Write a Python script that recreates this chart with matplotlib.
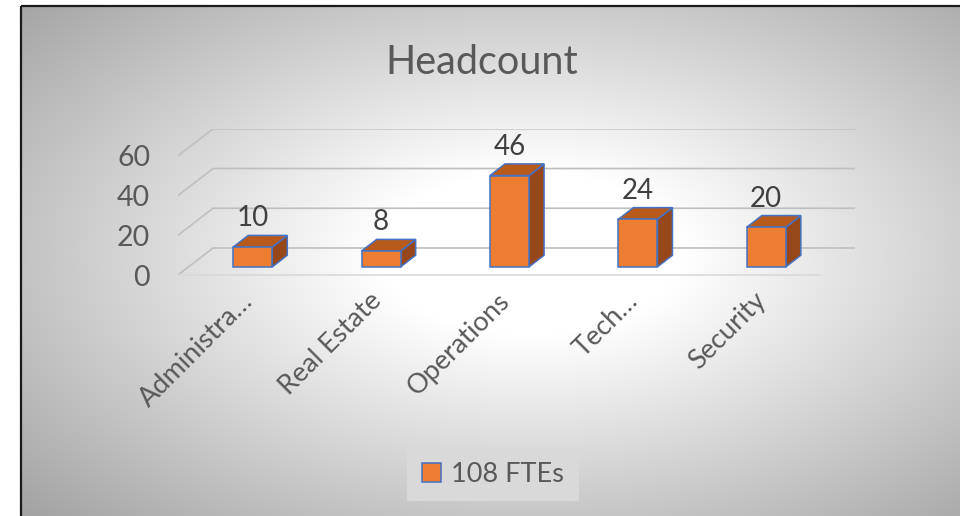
import numpy as np
import matplotlib.pyplot as plt
from matplotlib.patches import Polygon, Rectangle, Patch

categories = ['Administra…', 'Real Estate', 'Operations', 'Tech…', 'Security']
values = [10, 8, 46, 24, 20]
yticks = [0, 20, 40, 60]
title = 'Headcount'
series_name = 'FTEs'

front_c = '#ED7D31'
top_c = '#B95A1D'
side_c = '#97481B'
edge_c = '#4472C4'
text_c = '#595959'
grid_c = '#BFBFBF'

plt.rcParams['font.family'] = ['Lato', 'DejaVu Sans']

W, H = 960, 516
fig = plt.figure(figsize=(W / 100, H / 100), dpi=100)

# background: radial grey gradient inside a black frame
bg = fig.add_axes([0, 0, 1, 1], zorder=-10)
bg.set_xlim(0, W)
bg.set_ylim(H, 0)
bg.axis('off')
xx, yy = np.meshgrid(np.arange(W), np.arange(H))
r = np.sqrt(((xx - 520) / 620) ** 2 + ((yy - 250) / 330) ** 2)
shade = 1 - 0.40 * np.clip(r - 0.25, 0, None)
bg.imshow(np.dstack([shade] * 3), extent=(21, W, H, 6), aspect='auto', zorder=0)
bg.add_patch(Rectangle((21, 6), W, H, fill=False, edgecolor='#1a1a1a', lw=1.6, zorder=1))

# plot area: x in category units, y in value units (oblique 3d look)
px_left, px_right, px_bot, px_top = 178, 855, 275, 129
ax = fig.add_axes([px_left / W, 1 - px_bot / H, (px_right - px_left) / W, (px_bot - px_top) / H])
ax.set_facecolor('none')
ymax = 73.5
ax.set_xlim(-0.5, 4.5 + 0.2726)
ax.set_ylim(0, ymax)
for s in ax.spines.values():
    s.set_visible(False)
ax.set_xticks([])

Dx, Dy = 0.2726, 13.6   # full floor depth in data units
n = len(categories)

# gridlines: diagonal on the side wall then along the back wall
for v in yticks:
    ax.plot([-0.5, -0.5 + Dx, n - 0.5 + Dx], [v, v + Dy, v + Dy], color=grid_c, lw=1.2, zorder=1)
ax.plot([-0.5, n - 0.5], [0, 0], color='#D9D9D9', lw=1.2, zorder=1, clip_on=False)

ax.set_yticks(yticks)
ax.set_yticklabels([str(v) for v in yticks], fontsize=20.5, color=text_c)
ax.tick_params(axis='y', length=0, pad=20)

f0, d, bw = 0.3, 0.43, 0.304
for i, v in enumerate(values):
    xc = i + f0 * Dx
    xl, xr = xc - bw / 2, xc + bw / 2
    yb = f0 * Dy
    yt = yb + v
    ox, oy = d * Dx, d * Dy
    ax.add_patch(Polygon([(xr, yb), (xr + ox, yb + oy), (xr + ox, yt + oy), (xr, yt)],
                         facecolor=side_c, edgecolor=edge_c, lw=1.1, zorder=3))
    ax.add_patch(Polygon([(xl, yt), (xr, yt), (xr + ox, yt + oy), (xl + ox, yt + oy)],
                         facecolor=top_c, edgecolor=edge_c, lw=1.1, zorder=3))
    ax.add_patch(Rectangle((xl, yb), bw, v, facecolor=front_c, edgecolor=edge_c, lw=1.1, zorder=4))
    ax.text(xc, yt + oy + 4.5, str(v), ha='center', va='baseline', fontsize=20, color='#404040', zorder=5)
    ax.text(xc - 0.03, -11, categories[i], rotation=45, rotation_mode='anchor',
            ha='right', va='center', fontsize=19.5, color=text_c, clip_on=False)

fig.text(482 / W, 1 - 62 / H, title, ha='center', va='center', fontsize=28.5, color=text_c)

handle = Patch(facecolor=front_c, edgecolor=edge_c, lw=1.1)
leg = fig.legend([handle], [f'{sum(values)} {series_name}'], loc='center',
                 bbox_to_anchor=(493 / W, 1 - 474 / H), fontsize=19.5, frameon=True,
                 facecolor='#D9D9D9', edgecolor='none', fancybox=False, framealpha=1,
                 handlelength=0.7, handleheight=0.7, handletextpad=0.35, borderpad=0.55,
                 borderaxespad=0)
for t in leg.get_texts():
    t.set_color(text_c)

fig.savefig('out.png', dpi=100)
